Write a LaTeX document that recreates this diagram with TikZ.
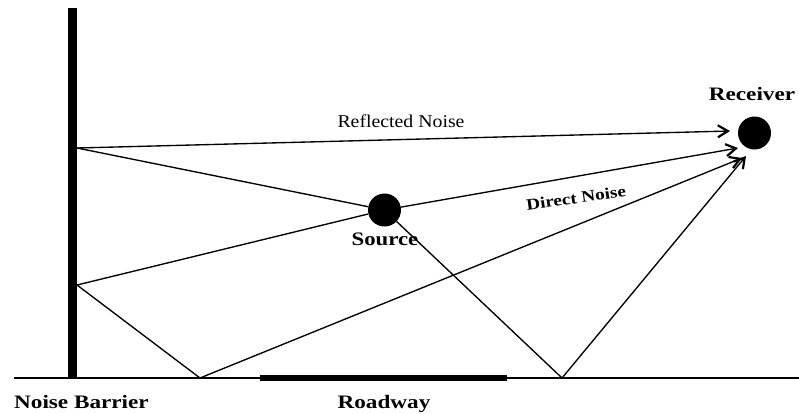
\documentclass[tikz,border=0pt]{standalone}
\usepackage{fontspec}
\setmainfont{Liberation Serif}
\usetikzlibrary{arrows.meta}
\newcommand\stretchtxt[2]{\scalebox{#1}[1]{#2}}
\begin{document}
\begin{tikzpicture}[x=1pt,y=-1pt,
  ray/.style={line width=1.35pt},
  arr/.style={ray,-{Straight Barb[length=10pt,width=12pt,line width=2.2pt]}},
  ball/.style={circle,fill=black,inner sep=0pt,minimum size=33pt},
  bold label/.style={font=\fontsize{19}{19}\selectfont\bfseries,anchor=base,inner sep=0pt},
  thin label/.style={font=\fontsize{18}{18}\selectfont,anchor=base,inner sep=0pt}]
\useasboundingbox (0,0) rectangle (799,413);
% ground, roadway, barrier
\draw[line width=1.5pt] (14,378) -- (799,378);
\draw[line width=6pt] (260,378) -- (507,378);
\draw[line width=9pt] (72.5,8) -- (72.5,378);
% source and receiver
\node[ball] (src) at (384.5,210) {};
\node[ball] (rcv) at (754.5,133) {};
% reflection points and arrow tips
\coordinate (b1) at (77,148);
\coordinate (b2) at (77,285);
\coordinate (g1) at (200,378);
\coordinate (g2) at (562,378);
\coordinate (t1) at (730,131);
\coordinate (t2) at (738,148);
\coordinate (t3) at (742,158);
\coordinate (t4) at (746,156);
% rays
\draw[arr] (b1) -- (t1);
\draw[ray] (b1) -- (src);
\draw[arr] (src) -- (t2);
\draw[ray] (b2) -- (src);
\draw[ray] (b2) -- (g1);
\draw[arr] (g1) -- (t3);
\draw[ray] (src) -- (g2);
\draw[arr] (g2) -- (t4);
% labels
\node[bold label] (rl) at (752,100) {\stretchtxt{1.22}{Receiver}};
\node[bold label] (sl) at (385,245) {\stretchtxt{1.2}{Source}};
\node[bold label,anchor=base west] (nb) at (14,408) {\stretchtxt{1.22}{Noise Barrier}};
\node[bold label] (rw) at (384,408) {\stretchtxt{1.22}{Roadway}};
\node[thin label] (rn) at (401,127) {\stretchtxt{1.1}{Reflected Noise}};
\node[font=\fontsize{16}{16}\selectfont\bfseries,inner sep=0pt,rotate=8] (dn) at (576,198) {\stretchtxt{1.2}{Direct Noise}};
\end{tikzpicture}
\end{document}
